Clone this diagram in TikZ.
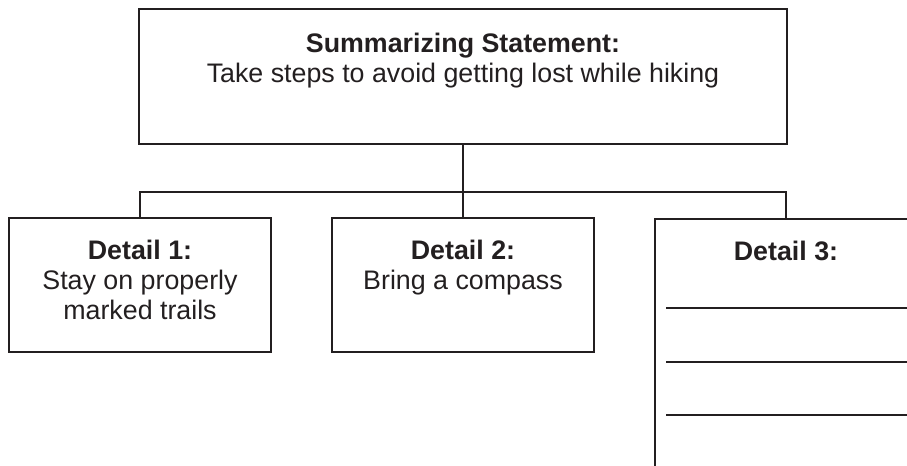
\documentclass[tikz,border=0pt]{standalone}
\usepackage{fontspec}
\setmainfont{Liberation Sans}
\usetikzlibrary{positioning}
\definecolor{ink}{HTML}{231F20}
\begin{document}
\begin{tikzpicture}[x=0.5pt,y=-0.5pt,
	box/.style={draw=ink, line width=1pt, inner sep=0pt},
	txt/.style={anchor=north, inner sep=0pt, align=center, text=ink, font=\fontsize{13.4}{15}\selectfont},
	blank/.style={draw=ink, line width=0.8pt}]
	\useasboundingbox (0,0) rectangle (907,466);
	\clip (0,0) rectangle (907,466);

	\node[box, minimum width=324pt, minimum height=67.5pt] (top) at (463,76.5) {};
	\node[box, minimum width=131pt, minimum height=67pt] (d1) at (140,285) {};
	\node[box, minimum width=131pt, minimum height=67pt] (d2) at (463,285) {};
	\node[box, minimum width=131pt, minimum height=150pt, anchor=north] (d3) at (786,218) {};

	\node[txt, below=12.5pt of top.north] (toptxt) {\textbf{Summarizing Statement:}\\Take steps to avoid getting lost while hiking};
	\node[txt, below=11.5pt of d1.north] (d1txt) {\textbf{Detail 1:}\\Stay on properly\\marked trails};
	\node[txt, below=11.5pt of d2.north] (d2txt) {\textbf{Detail 2:}\\Bring a compass};
	\node[txt, below=11.5pt of d3.north] (d3txt) {\textbf{Detail 3:}};

	\coordinate (bus) at (463,192);
	\draw[ink, line width=1pt] (top.south) -- (bus);
	\draw[ink, line width=1pt] (d1.north) -- (d1.north |- bus) -- (d3.north |- bus) -- (d3.north);
	\draw[ink, line width=1pt] (d2.north) -- (bus);

	\foreach \y in {308,362,415}
		\draw[blank] (666,\y) -- (917,\y);
\end{tikzpicture}
\end{document}
